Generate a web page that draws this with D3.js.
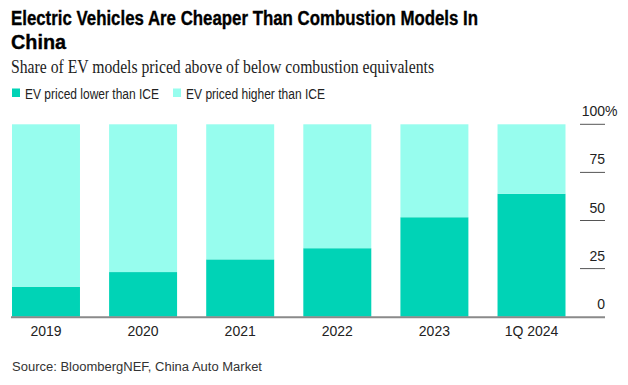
<!DOCTYPE html>
<html><head><meta charset="utf-8">
<script src="https://cdn.jsdelivr.net/npm/d3@7"></script>
<style>
html,body{margin:0;padding:0;background:#fff;}
svg{display:block;}
</style></head>
<body>
<script>
const categories = ["2019", "2020", "2021", "2022", "2023", "1Q 2024"];
const lowerThanICE = [15.6, 23.2, 29.8, 35.6, 51.7, 63.9];
const higherThanICE = [84.4, 76.8, 70.2, 64.4, 48.3, 36.1];
const yTicks = [0, 25, 50, 75, 100];
const yTickLabels = ["0", "25", "50", "75", "100%"];
const seriesNames = ["EV priced lower than ICE", "EV priced higher than ICE"];
const seriesColors = ["#00d3b6", "#97fdee"];

const W = 628, H = 385;
const svg = d3.select("body").append("svg").attr("width", W).attr("height", H);
const sans = "'Liberation Sans', Arial, Helvetica, sans-serif";

// Title
svg.append("text").attr("x", 11).attr("y", 25)
  .attr("font-family", sans).attr("font-weight", "bold").attr("font-size", 20)
  .attr("fill", "#000").attr("stroke", "#000").attr("stroke-width", 0.35)
  .attr("textLength", 467).attr("lengthAdjust", "spacingAndGlyphs")
  .text("Electric Vehicles Are Cheaper Than Combustion Models In");
svg.append("text").attr("x", 11).attr("y", 49)
  .attr("font-family", sans).attr("font-weight", "bold").attr("font-size", 20)
  .attr("fill", "#000").attr("stroke", "#000").attr("stroke-width", 0.35)
  .attr("textLength", 55).attr("lengthAdjust", "spacingAndGlyphs").text("China");

// Subtitle
svg.append("text").attr("x", 11).attr("y", 73)
  .attr("font-family", "'Liberation Serif', 'DejaVu Serif', serif").attr("font-size", 18)
  .attr("fill", "#222").attr("textLength", 423).attr("lengthAdjust", "spacingAndGlyphs")
  .text("Share of EV models priced above of below combustion equivalents");

// Legend
const legendX = [12, 173];
const legendW = [134, 139];
seriesNames.forEach((n, i) => {
  svg.append("rect").attr("x", legendX[i]).attr("y", 88.5).attr("width", 8).attr("height", 8.5)
    .attr("fill", seriesColors[i]);
  svg.append("text").attr("x", legendX[i] + 13).attr("y", 99)
    .attr("font-family", sans).attr("font-size", 14).attr("fill", "#222")
    .attr("textLength", legendW[i]).attr("lengthAdjust", "spacingAndGlyphs").text(n);
});

// Scales
const x = d3.scaleBand().domain(categories).range([12, 565.5]).paddingInner(0.3).paddingOuter(0);
const y = d3.scaleLinear().domain([0, 100]).range([316.7, 124.3]);

const rows = categories.map((c, i) => ({ cat: c, lower: lowerThanICE[i], higher: higherThanICE[i] }));
const stack = d3.stack().keys(["lower", "higher"])(rows);

svg.append("g").selectAll("g").data(stack).join("g")
  .attr("fill", (d, i) => seriesColors[i])
  .selectAll("rect").data(d => d).join("rect")
  .attr("x", d => x(d.data.cat))
  .attr("width", x.bandwidth())
  .attr("y", d => y(d[1]))
  .attr("height", d => y(d[0]) - y(d[1]));

// Right axis ticks
const tickG = svg.append("g");
yTicks.forEach((t, i) => {
  if (t !== 0) {
    tickG.append("line").attr("x1", 580).attr("x2", 605)
      .attr("y1", y(t)).attr("y2", y(t)).attr("stroke", "#555").attr("stroke-width", 1);
  }
  const lab = yTickLabels[i];
  const num = lab.replace("%", "");
  tickG.append("text").attr("x", 605).attr("y", y(t) - 8)
    .attr("text-anchor", "end").attr("font-family", sans).attr("font-size", 14)
    .attr("fill", "#222").text(num);
  if (lab.endsWith("%")) {
    tickG.append("text").attr("x", 605).attr("y", y(t) - 8)
      .attr("text-anchor", "start").attr("font-family", sans).attr("font-size", 14)
      .attr("fill", "#222").text("%");
  }
});

// Baseline
svg.append("line").attr("x1", 11).attr("x2", 605).attr("y1", y(0) + 0.5).attr("y2", y(0) + 0.5)
  .attr("stroke", "#8a8a8a").attr("stroke-width", 2);

// X labels
svg.append("g").selectAll("text").data(categories).join("text")
  .attr("x", d => x(d) + x.bandwidth() / 2).attr("y", 336)
  .attr("text-anchor", "middle").attr("font-family", sans).attr("font-size", 14)
  .attr("fill", "#222").text(d => d);

// Source
svg.append("text").attr("x", 12).attr("y", 371)
  .attr("font-family", sans).attr("font-size", 12.5).attr("fill", "#333")
  .attr("textLength", 250).attr("lengthAdjust", "spacingAndGlyphs")
  .text("Source: BloombergNEF, China Auto Market");
</script>
</body></html>
